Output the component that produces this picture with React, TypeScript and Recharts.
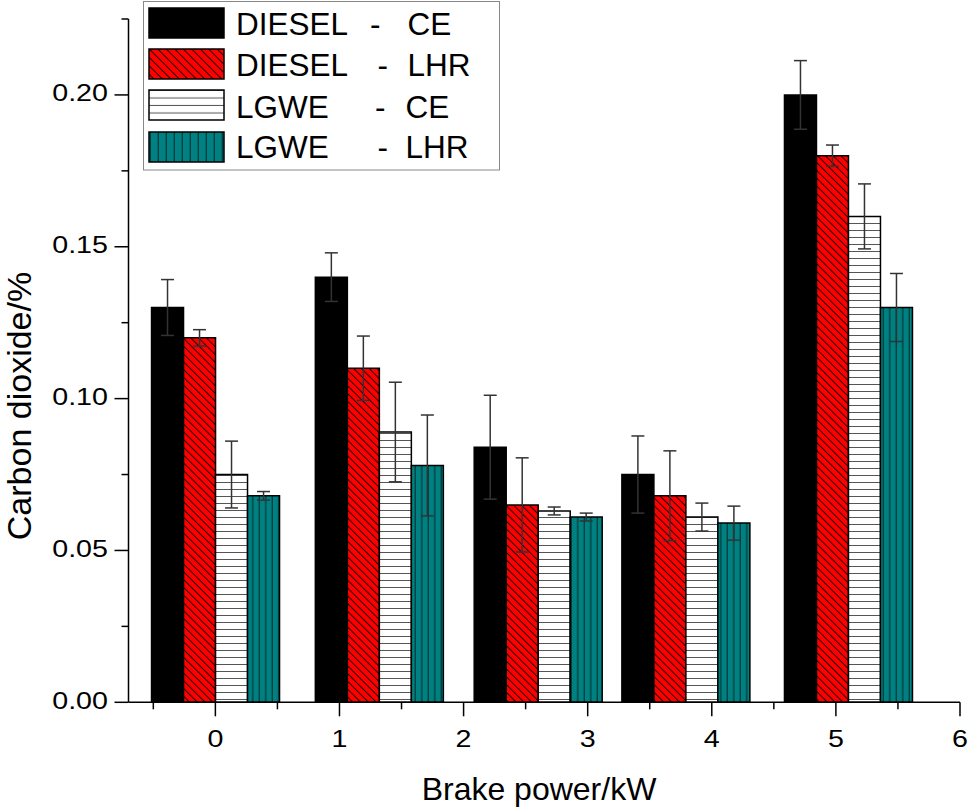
import { BarChart, Bar, XAxis, YAxis, ErrorBar } from 'recharts';

// Brake power (kW) of each load step and CO2 readings per engine/fuel
const brakePower = [0, 1.32, 2.6, 3.79, 5.1];

const dieselCE = [0.13, 0.14, 0.084, 0.075, 0.2];
const dieselCEErr = [0.0092, 0.008, 0.0171, 0.0127, 0.0113];

const dieselLHR = [0.12, 0.11, 0.065, 0.068, 0.18];
const dieselLHRErr = [0.0027, 0.0106, 0.0155, 0.0148, 0.0035];

const lgweCE = [0.075, 0.089, 0.063, 0.061, 0.16];
const lgweCEErr = [0.011, 0.0164, 0.0013, 0.0046, 0.0107];

const lgweLHR = [0.068, 0.078, 0.061, 0.059, 0.13];
const lgweLHRErr = [0.0014, 0.0166, 0.0013, 0.0056, 0.0112];

const xTicks = [-0.5, 0, 0.5, 1, 1.5, 2, 2.5, 3, 3.5, 4, 4.5, 5, 5.5, 6];
const yTicks = [0, 0.025, 0.05, 0.075, 0.1, 0.125, 0.15, 0.175, 0.2, 0.225];

const legendFuel = ['DIESEL', 'DIESEL', 'LGWE', 'LGWE'];
const legendEngine = ['CE', 'LHR', 'CE', 'LHR'];
const legendFills = ['#000000', 'url(#lgRed)', 'url(#lgWhite)', 'url(#lgTeal)'];

const FONT = '"Liberation Sans", Arial, Helvetica, sans-serif';

const data = brakePower.map((x, i) => ({
  x,
  dieselCE: dieselCE[i],
  dieselCEErr: dieselCEErr[i],
  dieselLHR: dieselLHR[i],
  dieselLHRErr: dieselLHRErr[i],
  lgweCE: lgweCE[i],
  lgweCEErr: lgweCEErr[i],
  lgweLHR: lgweLHR[i],
  lgweLHRErr: lgweLHRErr[i],
}));

const isMajor = (v: number, step: number) => Math.abs(v / step - Math.round(v / step)) < 1e-6;

// tick labels in the original are a little wider than plain Arial
function TickText({ x, y, anchor, children }: { x: number; y: number; anchor: string; children: any }) {
  return (
    <text
      transform={`translate(${x},${y}) scale(1.17,1)`}
      textAnchor={anchor}
      fontSize={24.5}
      fontFamily={FONT}
      fill="#000"
    >
      {children}
    </text>
  );
}

function XTick({ x, y, payload }: any) {
  const v = payload.value as number;
  if (!isMajor(v, 1)) {
    return <line x1={x} y1={y} x2={x} y2={y + 7} stroke="#000" strokeWidth={1.5} />;
  }
  return (
    <g>
      <line x1={x} y1={y} x2={x} y2={y + 14} stroke="#000" strokeWidth={1.5} />
      <TickText x={x} y={y + 44.5} anchor="middle">{v}</TickText>
    </g>
  );
}

function YTick({ x, y, payload }: any) {
  const v = payload.value as number;
  if (!isMajor(v, 0.05)) {
    return <line x1={x - 7} y1={y} x2={x} y2={y} stroke="#000" strokeWidth={1.5} />;
  }
  return (
    <g>
      <line x1={x - 14} y1={y} x2={x} y2={y} stroke="#000" strokeWidth={1.5} />
      <TickText x={x - 20.5} y={y + 6.5} anchor="end">{v.toFixed(2)}</TickText>
    </g>
  );
}

function XTitle() {
  return (
    <text x={539} y={800} textAnchor="middle" fontSize={32} fontFamily={FONT} fill="#000">
      Brake power/kW
    </text>
  );
}

function YTitle() {
  return (
    <text
      transform="translate(31,406) rotate(-90)"
      textAnchor="middle"
      fontSize={34}
      fontFamily={FONT}
      fill="#000"
    >
      Carbon dioxide/%
    </text>
  );
}

function Patterns({ prefix, hatch, hline, vline }: { prefix: string; hatch: number; hline: number; vline: number }) {
  return (
    <defs>
      <pattern id={`${prefix}Red`} patternUnits="userSpaceOnUse" width={hatch} height={hatch} patternTransform="rotate(-45)">
        <rect width={hatch} height={hatch} fill="#ff0000" />
        <line x1={0.5} y1={0} x2={0.5} y2={hatch} stroke="#1a0000" strokeWidth={1} />
      </pattern>
      <pattern id={`${prefix}White`} patternUnits="userSpaceOnUse" width={10} height={hline}>
        <rect width={10} height={hline} fill="#ffffff" />
        <line x1={0} y1={hline - 0.5} x2={10} y2={hline - 0.5} stroke="#555" strokeWidth={1} />
      </pattern>
      <pattern id={`${prefix}Teal`} patternUnits="userSpaceOnUse" width={vline} height={10}>
        <rect width={vline} height={10} fill="#008080" />
        <line x1={vline - 0.7} y1={0} x2={vline - 0.7} y2={10} stroke="#003c3c" strokeWidth={1.3} />
      </pattern>
    </defs>
  );
}

function LegendBox() {
  const swatchTop = [7, 48, 89, 131];
  const baseline = [33.5, 75, 116.5, 156.5];
  const dashX = [227, 234.5, 232, 234.5];
  const engineX = [264.5, 264.5, 262.5, 262.5];
  return (
    <svg
      width={358}
      height={172}
      style={{ position: 'absolute', left: 143, top: 1 }}
    >
      <Patterns prefix="lg" hatch={6} hline={7.5} vline={8} />
      <rect x={0.5} y={0.5} width={356} height={168.5} fill="#fff" stroke="#888" strokeWidth={1} />
      {legendFuel.map((fuel, i) => (
        <g key={i}>
          <rect x={6} y={swatchTop[i]} width={75} height={30} fill={legendFills[i]} stroke="#000" strokeWidth={1.5} />
          <text x={93} y={baseline[i]} fontSize={31.5} fontFamily={FONT} fill="#000">{fuel}</text>
          <text x={dashX[i]} y={baseline[i]} fontSize={31.5} fontFamily={FONT} fill="#000">-</text>
          <text x={engineX[i]} y={baseline[i]} fontSize={31.5} fontFamily={FONT} fill="#000">{legendEngine[i]}</text>
        </g>
      ))}
    </svg>
  );
}

export default function App() {
  const errStyle = { stroke: '#333', strokeWidth: 1.5, width: 6.5 };
  return (
    <div style={{ position: 'absolute', left: 0, top: 0, width: 969, height: 807, background: '#fff' }}>
      <BarChart
        width={969}
        height={807}
        data={data}
        margin={{ top: 19, right: 9, bottom: 0, left: 0 }}
        barGap={0}
      >
        <Patterns prefix="bar" hatch={5.5} hline={7} vline={6.5} />
        <XAxis
          type="number"
          dataKey="x"
          domain={[-0.7, 6]}
          ticks={xTicks}
          interval={0}
          height={104.7}
          tickSize={0}
          tickMargin={0}
          axisLine={{ stroke: '#000', strokeWidth: 1.5 }}
          tick={(props: any) => <XTick {...props} />}
          label={<XTitle />}
        />
        <YAxis
          type="number"
          domain={[0, 0.225]}
          ticks={yTicks}
          interval={0}
          width={128.5}
          tickSize={0}
          tickMargin={0}
          axisLine={{ stroke: '#000', strokeWidth: 1.5 }}
          tick={(props: any) => <YTick {...props} />}
          label={<YTitle />}
        />
        <Bar dataKey="dieselCE" fill="#000000" stroke="#000" strokeWidth={1.5} barSize={32} isAnimationActive={false}>
          <ErrorBar dataKey="dieselCEErr" direction="y" {...errStyle} />
        </Bar>
        <Bar dataKey="dieselLHR" fill="url(#barRed)" stroke="#000" strokeWidth={1.5} barSize={32} isAnimationActive={false}>
          <ErrorBar dataKey="dieselLHRErr" direction="y" {...errStyle} />
        </Bar>
        <Bar dataKey="lgweCE" fill="url(#barWhite)" stroke="#000" strokeWidth={1.5} barSize={32} isAnimationActive={false}>
          <ErrorBar dataKey="lgweCEErr" direction="y" {...errStyle} />
        </Bar>
        <Bar dataKey="lgweLHR" fill="url(#barTeal)" stroke="#000" strokeWidth={1.5} barSize={32} isAnimationActive={false}>
          <ErrorBar dataKey="lgweLHRErr" direction="y" {...errStyle} />
        </Bar>
      </BarChart>
      <LegendBox />
    </div>
  );
}
